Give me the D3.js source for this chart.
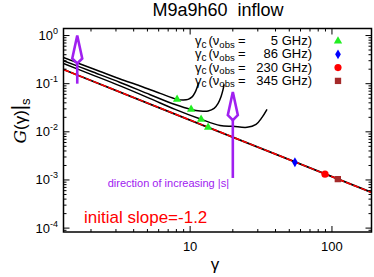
<!DOCTYPE html>
<html>
<head>
<meta charset="utf-8">
<script src="https://cdn.jsdelivr.net/npm/d3@7"></script>
<style>
  body { margin: 0; background: #fff; }
  text { font-family: "Liberation Sans", Arial, sans-serif; }
</style>
</head>
<body>
<div class="area"></div>
<script>
// values: [gamma, G]
var curve1 = [[1.28,0.350],[1.68,0.257],[2.32,0.179],[3.21,0.125],[4.45,0.0898],[6.15,0.0628],[8.09,0.0472],[8.93,0.0460],[9.68,0.0472],[10.33,0.0531],[10.84,0.0659],[11.20,0.0836],[11.48,0.1061]];
var curve2 = [[1.28,0.300],[1.98,0.183],[3.21,0.106],[5.23,0.0590],[7.84,0.0368],[10.16,0.0292],[11.76,0.0272],[13.39,0.0272],[14.76,0.0307],[15.75,0.0390],[16.53,0.0544],[17.08,0.0760],[17.36,0.0965]];
var curve3 = [[1.28,0.262],[1.98,0.158],[3.21,0.090],[5.23,0.0490],[7.84,0.0292],[11.95,0.0182],[16.27,0.0136],[20.08,0.0130],[25.2,0.0124],[29.16,0.0143],[32.14,0.020],[34.85,0.0293]];
var curve4 = [[1.28,0.197],[13.39,0.0124],[190,0.00055]];
var slopeLine = [[1.28,0.197],[190,0.00055]];

// gamma_c markers for 5 GHz on each curve
var gc5 = [[8.09,0.0472],[10.16,0.0292],[11.95,0.0182],[13.39,0.0124]];
// gamma_c markers for the other frequencies
var gc86 = [[54.8,0.00233]];
var gc230 = [[89.3,0.00132]];
var gc345 = [[110,0.00104]];

var freqLabels = ["5", "86", "230", "345"];
var xTickLabels = [10, 100];
var yTickExps = [0, -1, -2, -3, -4];

// arrows: gamma, bottom, tip
var arrows = [{g: 1.6, from: 0.1, to: 1.0}, {g: 20, from: 0.0011, to: 0.067}];

var W = 374, H = 277;
var margin = {top: 28.5, right: 2.5, bottom: 45, left: 63.5},
    width = W - margin.left - margin.right,
    height = H - margin.top - margin.bottom;

var svg = d3.select(".area")
  .append("svg")
    .attr("width", W)
    .attr("height", H);

var chart = svg.append("g")
    .attr("transform", "translate(" + margin.left + "," + margin.top + ")");

var x = d3.scaleLog().domain([1.28, 190]).range([0, width]);
var y = d3.scaleLog().domain([8.3e-5, 1.4]).range([height, 0]);

svg.append("clipPath").attr("id", "clip")
  .append("rect").attr("width", width).attr("height", height);

var line = d3.line()
  .x(function(d) { return x(d[0]); })
  .y(function(d) { return y(d[1]); })
  .curve(d3.curveCatmullRom);

var plot = chart.append("g").attr("clip-path", "url(#clip)");

// black curves
[curve1, curve2, curve3].forEach(function(c) {
  plot.append("path")
    .datum(c)
    .attr("fill", "none")
    .attr("stroke", "#000")
    .attr("stroke-width", 1.5)
    .attr("d", line);
});
plot.append("path")
  .datum(curve4)
  .attr("fill", "none")
  .attr("stroke", "#000")
  .attr("stroke-width", 1.8)
  .attr("d", line);

// initial slope line (red dashed over black)
plot.append("path")
  .datum(slopeLine)
  .attr("fill", "none")
  .attr("stroke", "#ff0000")
  .attr("stroke-width", 1.5)
  .attr("stroke-dasharray", "6,2")
  .attr("d", line);

// arrows
var purple = "#a020f0";
arrows.forEach(function(a) {
  var ax = x(a.g), y0 = y(a.from), y1 = y(a.to);
  var g = chart.append("g").attr("stroke", purple).attr("stroke-width", 2.6).attr("fill", "none");
  g.append("line").attr("x1", ax).attr("x2", ax).attr("y1", y0).attr("y2", y1 + 28);
  g.append("path")
    .attr("stroke-linejoin", "miter")
    .attr("d", "M" + ax + "," + y1 + "L" + (ax + 5) + "," + (y1 + 23) + "L" + ax + "," + (y1 + 28) + "L" + (ax - 5) + "," + (y1 + 23) + "Z");
});

// markers
var sym = function(type, size) { return d3.symbol().type(type).size(size)(); };
plot.selectAll(".tri").data(gc5).enter().append("path")
  .attr("transform", function(d) { return "translate(" + x(d[0]) + "," + y(d[1]) + ")"; })
  .attr("d", sym(d3.symbolTriangle, 30))
  .attr("fill", "#22ee22");
plot.selectAll(".dia").data(gc86).enter().append("path")
  .attr("transform", function(d) { return "translate(" + x(d[0]) + "," + y(d[1]) + ")"; })
  .attr("d", sym(d3.symbolDiamond, 28))
  .attr("fill", "#0000ff");
plot.selectAll(".cir").data(gc230).enter().append("circle")
  .attr("cx", function(d) { return x(d[0]); })
  .attr("cy", function(d) { return y(d[1]); })
  .attr("r", 3.6)
  .attr("fill", "#ff0000");
plot.selectAll(".sq").data(gc345).enter().append("path")
  .attr("transform", function(d) { return "translate(" + x(d[0]) + "," + y(d[1]) + ")"; })
  .attr("d", sym(d3.symbolSquare, 40))
  .attr("fill", "#a52a2a");

// frame
chart.append("rect")
  .attr("width", width).attr("height", height)
  .attr("fill", "none").attr("stroke", "#000").attr("stroke-width", 1.5);

// ticks (inward, mirrored)
var ticks = chart.append("g").attr("stroke", "#000").attr("stroke-width", 1);
x.ticks().forEach(function(t) {
  var major = Math.abs(Math.log10(t) - Math.round(Math.log10(t))) < 1e-6;
  var len = major ? 6 : 3, px = x(t);
  if (px < 1 || px > width - 1) return;
  ticks.append("line").attr("x1", px).attr("x2", px).attr("y1", height).attr("y2", height - len);
  ticks.append("line").attr("x1", px).attr("x2", px).attr("y1", 0).attr("y2", len);
});
y.ticks().forEach(function(t) {
  var major = Math.abs(Math.log10(t) - Math.round(Math.log10(t))) < 1e-6;
  var len = major ? 6 : 3, py = y(t);
  if (py < 1 || py > height - 1) return;
  ticks.append("line").attr("y1", py).attr("y2", py).attr("x1", 0).attr("x2", len);
  ticks.append("line").attr("y1", py).attr("y2", py).attr("x1", width).attr("x2", width - len);
});

// tick labels
chart.selectAll(".xl").data(xTickLabels).enter().append("text")
  .attr("x", function(d) { return x(d); })
  .attr("y", height + 19)
  .attr("text-anchor", "middle")
  .attr("font-size", 13)
  .text(function(d) { return d; });

yTickExps.forEach(function(e) {
  var t = chart.append("text")
    .attr("x", -5.5)
    .attr("y", y(Math.pow(10, e)) + 4.5)
    .attr("text-anchor", "end")
    .attr("font-size", 13);
  t.append("tspan").text("10");
  t.append("tspan").attr("dy", -6).attr("font-size", 9).text(e === 0 ? "0" : "-" + (-e));
});

// title
svg.append("text")
  .attr("x", 218).attr("y", 16)
  .attr("text-anchor", "middle")
  .attr("font-size", 18)
  .attr("xml:space", "preserve")
  .text("M9a9h60  inflow");

// axis labels
svg.append("text")
  .attr("x", 215).attr("y", 270)
  .attr("text-anchor", "middle")
  .attr("font-size", 17)
  .text("\u03b3");

var yl = svg.append("text")
  .attr("transform", "translate(26,121) rotate(-90)")
  .attr("text-anchor", "middle")
  .attr("font-size", 17);
yl.append("tspan").attr("font-family", "DejaVu Serif").attr("font-style", "italic").text("G");
yl.append("tspan").text("(\u03b3)");
yl.append("tspan").attr("font-size", 20).text("|");
yl.append("tspan").attr("dy", 4).attr("font-size", 13).text("s");

// legend
var leg = svg.append("g");
freqLabels.forEach(function(f, i) {
  var by = 45 + i * 13.3;
  var t = leg.append("text").attr("x", 195).attr("y", by).attr("font-size", 13);
  t.append("tspan").text("\u03b3");
  t.append("tspan").attr("dy", 2.5).attr("font-size", 10).text("c");
  t.append("tspan").attr("dy", -2.5).attr("dx", 2).text("(\u03bd");
  t.append("tspan").attr("dy", 2.5).attr("font-size", 9.5).text("obs");
  t.append("tspan").attr("dy", -2.5).attr("x", 238).text("=");
  leg.append("text").attr("x", 312).attr("y", by).attr("font-size", 13)
    .attr("text-anchor", "end").text(f + " GHz)");
});
var legSyms = [
  {type: d3.symbolTriangle, size: 30, fill: "#22ee22"},
  {type: d3.symbolDiamond, size: 28, fill: "#0000ff"},
  {type: d3.symbolCircle, size: 40, fill: "#ff0000"},
  {type: d3.symbolSquare, size: 40, fill: "#a52a2a"}
];
legSyms.forEach(function(s, i) {
  leg.append("path")
    .attr("transform", "translate(338," + (41 + i * 13.3) + ")")
    .attr("d", sym(s.type, s.size))
    .attr("fill", s.fill);
});

// annotations
svg.append("text")
  .attr("x", 229).attr("y", 187)
  .attr("text-anchor", "end")
  .attr("font-size", 11)
  .attr("fill", purple)
  .text("direction of increasing |s|");

svg.append("text")
  .attr("x", 84).attr("y", 223)
  .attr("font-size", 17)
  .attr("fill", "#ff0000")
  .text("initial slope=-1.2");
</script>
</body>
</html>
